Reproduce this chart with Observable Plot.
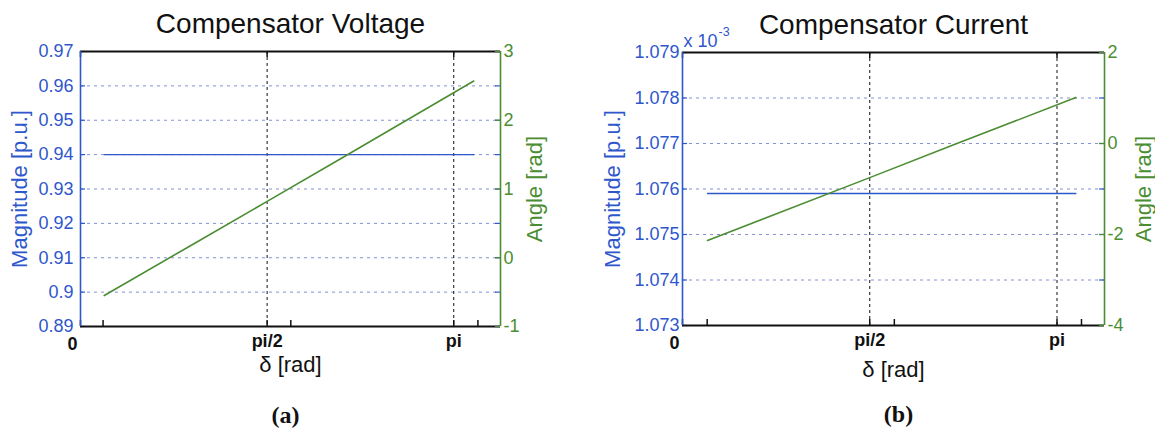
<!DOCTYPE html>
<html>
<head>
<meta charset="utf-8">
<script src="https://cdn.jsdelivr.net/npm/d3@7"></script>
<script src="https://cdn.jsdelivr.net/npm/@observablehq/plot@0.6"></script>
<style>
  html, body { margin: 0; padding: 0; background: white; }
  #root { position: relative; width: 1155px; height: 433px; background: white; overflow: hidden; }
  #root svg { position: absolute; left: 0; top: 0; }
</style>
</head>
<body>
<div id="root"></div>
<script>
// ---------- data ----------
const panelTitles = ["Compensator Voltage", "Compensator Current"];
const panelTags = ["(a)", "(b)"];
const xLabel = "δ [rad]";
const magLabel = "Magnitude [p.u.]";
const angLabel = "Angle [rad]";
const magExponent = ["x 10", "-3"];

const xTicks = [0, Math.PI / 2, Math.PI];
const xTickLabels = ["0", "pi/2", "pi"];
const xMinorTicksA = [0.19, 1.77, 3.345];
const xMinorTicksB = [0.207, 1.777, 3.347];

const magTicksA = [0.89, 0.90, 0.91, 0.92, 0.93, 0.94, 0.95, 0.96, 0.97];
const magTickLabelsA = ["0.89", "0.9", "0.91", "0.92", "0.93", "0.94", "0.95", "0.96", "0.97"];
const angTicksA = [-1, 0, 1, 2, 3];
const angTickLabelsA = ["-1", "0", "1", "2", "3"];

const magTicksB = [1.073, 1.074, 1.075, 1.076, 1.077, 1.078, 1.079];
const magTickLabelsB = ["1.073", "1.074", "1.075", "1.076", "1.077", "1.078", "1.079"];
const angTicksB = [-4, -2, 0, 2];
const angTickLabelsB = ["-4", "-2", "0", "2"];

// panel (a): compensator voltage
const deltaMagA = [0.2, 3.31];
const magA = [0.94, 0.94];
const deltaAngA = [0.2, 0.9, 1.571, 2.2, 3.31];
const angA = [-0.55, 0.15, 0.82, 1.45, 2.57];

// panel (b): compensator current (magnitude in units of 1e-3)
const deltaMagB = [0.21, 3.30];
const magB = [1.0759, 1.0759];
const deltaAngB = [0.21, 1.571, 2.275, 3.30];
const angB = [-2.13, -0.75, -0.03, 1.01];

// ---------- styling ----------
const BLUE = "#2f57cc";
const GREEN = "#4b8d33";
const GRID = "#8590d6";
const FONT = "'Liberation Sans', Arial, Helvetica, sans-serif";
const root = document.getElementById("root");
const W = 1155, H = 433;

function mount(svg) { root.append(svg); }
function fmt(ticks, labels) { return d => labels[ticks.indexOf(d)]; }

function panel(cfg) {
  const { mL, mR, mT, mB, xMax, magDomain, angDomain,
          magTicks, magTickLabels, angTicks, angTickLabels,
          minorTicks, dMag, mag, dAng, ang, title, tag,
          magPad, angPad, magLabelDx, angLabelDx, xLabelDy, tagDx, exponent } = cfg;
  const fw = W - mL - mR, fh = H - mT - mB;
  const magData = dMag.map((d, i) => ({ x: d, y: mag[i] }));
  const angData = dAng.map((d, i) => ({ x: d, y: ang[i] }));
  const base = {
    width: W, height: H, marginLeft: mL, marginRight: mR, marginTop: mT, marginBottom: mB,
    x: { domain: [0, xMax], axis: null },
    style: { background: "transparent", fontFamily: FONT, overflow: "visible" }
  };
  const gridMag = magTicks.slice(1, -1);
  const marks = [
    Plot.gridY(gridMag, { stroke: GRID, strokeOpacity: 1, strokeDasharray: "3,4", strokeWidth: 1 }),
    Plot.gridX(xTicks.slice(1), { stroke: "#111", strokeOpacity: 1, strokeDasharray: "3,3", strokeWidth: 1 }),
    // inward ticks
    Plot.tickY(magTicks, { y: d => d, stroke: BLUE, insetRight: fw - 5, strokeWidth: 1.2 }),
    Plot.tickY(magTicks, { y: d => d, stroke: BLUE, insetLeft: fw - 5, strokeWidth: 1.2 }),
    Plot.tickX(xTicks, { x: d => d, stroke: "#111", insetTop: fh - 6, strokeWidth: 1.5 }),
    Plot.tickX(xTicks, { x: d => d, stroke: "#111", insetBottom: fh - 6, strokeWidth: 1.5 }),
    Plot.tickX(minorTicks, { x: d => d, stroke: "#111", insetTop: fh - 6, strokeWidth: 1.5 }),
    // data
    Plot.line(magData, { x: "x", y: "y", stroke: BLUE, strokeWidth: 1.4 }),
    // frame
    Plot.ruleY([magDomain[1]], { stroke: "#111", strokeWidth: 1.8 }),
    Plot.ruleY([magDomain[0]], { stroke: "#111", strokeWidth: 1.8 }),
    Plot.ruleX([0], { stroke: BLUE, strokeWidth: 1.6 }),
    // axes
    Plot.axisY(magTicks, { anchor: "left", tickSize: 0, tickPadding: magPad, tickFormat: fmt(magTicks, magTickLabels),
      color: BLUE, fontSize: 18, label: null }),
    Plot.text(xTicks.filter(d => d !== 0), { x: d => d, text: d => xTickLabels[xTicks.indexOf(d)], frameAnchor: "bottom",
      lineAnchor: "top", dy: 8, fontSize: 18, fontWeight: "bold", fill: "#111" }),
    Plot.text(xTicks.filter(d => d === 0), { x: d => d, text: d => xTickLabels[xTicks.indexOf(d)], frameAnchor: "bottom",
      lineAnchor: "top", dy: 11, dx: -8, fontSize: 18, fontWeight: "bold", fill: "#111" }),
    // labels
    Plot.text([title], { text: d => d, frameAnchor: "top", textAnchor: "middle", lineAnchor: "middle", dy: -27, fontSize: 28, fill: "#111" }),
    Plot.text([magLabel], { text: d => d, frameAnchor: "left", textAnchor: "middle", rotate: -90, lineAnchor: "middle", dx: magLabelDx, fontSize: 22, fill: BLUE }),
    Plot.text([xLabel], { text: d => d, frameAnchor: "bottom", textAnchor: "middle", lineAnchor: "middle", dy: xLabelDy, fontSize: 22, fill: "#111" }),
    Plot.text([tag], { text: d => d, frameAnchor: "bottom", textAnchor: "middle", lineAnchor: "middle", dy: 89, dx: tagDx, fontSize: 24,
      fontWeight: "bold", fontFamily: "'Liberation Serif', 'Times New Roman', serif", fill: "#111" })
  ];
  if (exponent) {
    marks.push(Plot.text([exponent[0]], { text: d => d, frameAnchor: "top-left", textAnchor: "start", lineAnchor: "middle", dx: 1, dy: -11, fontSize: 18, fill: BLUE }));
    marks.push(Plot.text([exponent[1]], { text: d => d, frameAnchor: "top-left", textAnchor: "start", lineAnchor: "middle", dx: 36, dy: -21, fontSize: 12.5, fill: BLUE }));
  }
  mount(Plot.plot({ ...base, y: { domain: magDomain, axis: null }, marks }));

  mount(Plot.plot({
    ...base,
    y: { domain: angDomain, axis: null },
    marks: [
      Plot.tickY(angTicks, { y: d => d, stroke: GREEN, insetLeft: fw - 5, strokeWidth: 1.2 }),
      Plot.line(angData, { x: "x", y: "y", stroke: GREEN, strokeWidth: 1.6 }),
      Plot.ruleX([xMax], { stroke: GREEN, strokeWidth: 1.6 }),
      Plot.axisY(angTicks, { anchor: "right", tickSize: 0, tickPadding: angPad, tickFormat: fmt(angTicks, angTickLabels),
        color: GREEN, fontSize: 18, label: null }),
      Plot.text([angLabel], { text: d => d, frameAnchor: "right", textAnchor: "middle", rotate: -90, lineAnchor: "middle", dx: angLabelDx, fontSize: 22, fill: GREEN })
    ]
  }));
}

panel({
  mL: 80, mR: 655, mT: 51, mB: 107, xMax: 3.535,
  magDomain: [0.89, 0.97], angDomain: [-1, 3],
  magTicks: magTicksA, magTickLabels: magTickLabelsA, angTicks: angTicksA, angTickLabels: angTickLabelsA,
  minorTicks: xMinorTicksA, dMag: deltaMagA, mag: magA, dAng: deltaAngA, ang: angA,
  title: panelTitles[0], tag: panelTags[0], magPad: 7, angPad: 3,
  magLabelDx: -61, angLabelDx: 34, xLabelDy: 38, tagDx: -5, exponent: null
});

panel({
  mL: 682, mR: 51, mT: 52, mB: 108, xMax: 3.54,
  magDomain: [1.073, 1.079], angDomain: [-4, 2],
  magTicks: magTicksB, magTickLabels: magTickLabelsB, angTicks: angTicksB, angTickLabels: angTickLabelsB,
  minorTicks: xMinorTicksB, dMag: deltaMagB, mag: magB, dAng: deltaAngB, ang: angB,
  title: panelTitles[1], tag: panelTags[1], magPad: 3, angPad: 3,
  magLabelDx: -70, angLabelDx: 39, xLabelDy: 44, tagDx: 5, exponent: magExponent
});
</script>
</body>
</html>
